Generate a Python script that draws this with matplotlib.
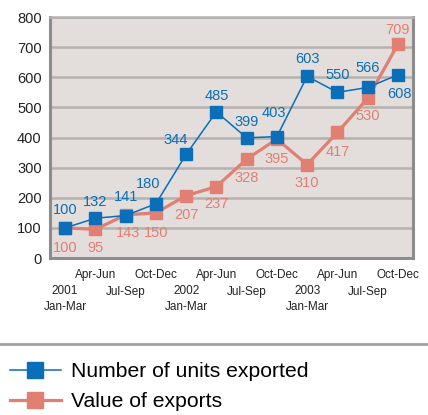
import matplotlib
matplotlib.use('Agg')
import matplotlib.pyplot as plt
from matplotlib.lines import Line2D

plt.rcParams['font.family'] = ['Liberation Sans', 'DejaVu Sans']

# datos
fila1 = ["", "Apr-Jun", "", "Oct-Dec", "", "Apr-Jun", "", "Oct-Dec", "", "Apr-Jun", "", "Oct-Dec"]
fila2 = ["2001", "", "Jul-Sep", "", "2002", "", "Jul-Sep", "", "2003", "", "Jul-Sep", ""]
fila3 = ["Jan-Mar", "", "", "", "Jan-Mar", "", "", "", "Jan-Mar", "", "", ""]
unidades = [100, 132, 141, 180, 344, 485, 399, 403, 603, 550, 566, 608]
valor = [100, 95, 143, 150, 207, 237, 328, 395, 310, 417, 530, 709]
yticks = [0, 100, 200, 300, 400, 500, 600, 700, 800]

azul = '#0a6fb8'
salmon = '#e07f72'
fondo = '#e3dedc'
rejilla = '#b4b1b0'

# desplazamientos de las etiquetas (pixeles)
off_azul = [(0, 18), (0, 16), (0, 19), (-8, 20), (-10, 14), (0, 16),
            (0, 16), (-3, 24), (0, 17), (0, 17), (0, 19), (2, -19)]
off_salmon = [(0, -20), (0, -18.5), (2, -18), (0, -20), (0, -19), (0, -17),
              (0, -19), (0, -19.5), (0, -18), (0, -20), (0, -18), (0, 14)]
px = 0.72

fig = plt.figure(figsize=(4.28, 4.15), dpi=100)
ax = fig.add_axes([50/428, 1 - 258/415, 363/428, 241/415])
ax.set_facecolor(fondo)

x = list(range(len(unidades)))
l2, = ax.plot(x, valor, color=salmon, lw=2.3, marker='s', ms=9,
              mec=salmon, mfc=salmon, zorder=3, label="Value of exports")
l1, = ax.plot(x, unidades, color=azul, lw=1.1, marker='s', ms=9,
              mec=azul, mfc=azul, zorder=4, label="Number of units exported")

etiq = ['Liberation Sans Narrow', 'Liberation Sans']
for i in x:
    ax.annotate(str(unidades[i]), (i, unidades[i]),
                xytext=(off_azul[i][0]*px, off_azul[i][1]*px),
                textcoords='offset points', ha='center', va='center',
                color=azul, fontsize=10.5, family=etiq, zorder=5)
    ax.annotate(str(valor[i]), (i, valor[i]),
                xytext=(off_salmon[i][0]*px, off_salmon[i][1]*px),
                textcoords='offset points', ha='center', va='center',
                color=salmon, fontsize=10.5, family=etiq, zorder=5)

# etiquetas del eje x en tres filas
for fila, dy in [(fila1, -17), (fila2, -33.5), (fila3, -48.5)]:
    for i, t in enumerate(fila):
        if t:
            ax.annotate(t, (i, 0), xycoords=ax.get_xaxis_transform(),
                        xytext=(0, dy*px), textcoords='offset points',
                        ha='center', va='center', fontsize=8.5, color='#222222')

ax.set_xlim(-0.5, 11.5)
ax.set_ylim(0, 800)
ax.set_yticks(yticks)
ax.set_yticklabels([str(v) for v in yticks], fontsize=10.5, color='#222222')
ax.set_xticks(x)
ax.set_xticklabels([])
ax.tick_params(axis='both', length=0)
ax.tick_params(axis='y', pad=6)

ax.grid(axis='y', color=rejilla, lw=1.8, zorder=1)
ax.set_axisbelow(True)
for s in ['left', 'bottom', 'right']:
    ax.spines[s].set_color('#8c8c8c')
    ax.spines[s].set_linewidth(2.2)
ax.spines['top'].set_color(rejilla)
ax.spines['top'].set_linewidth(1.8)

fig.add_artist(Line2D([0, 1], [1 - 344/415, 1 - 344/415], color='#a0a0a0',
                      lw=2, transform=fig.transFigure))

fig.legend(handles=[l1, l2], loc='upper left', bbox_to_anchor=(10/428, 1 - 362/415),
           frameon=False, fontsize=15.2, handlelength=2.4, handletextpad=0.5,
           labelspacing=0.52, borderaxespad=0, borderpad=0, markerscale=1.3)

plt.savefig("out.png", dpi=100)
plt.close()
